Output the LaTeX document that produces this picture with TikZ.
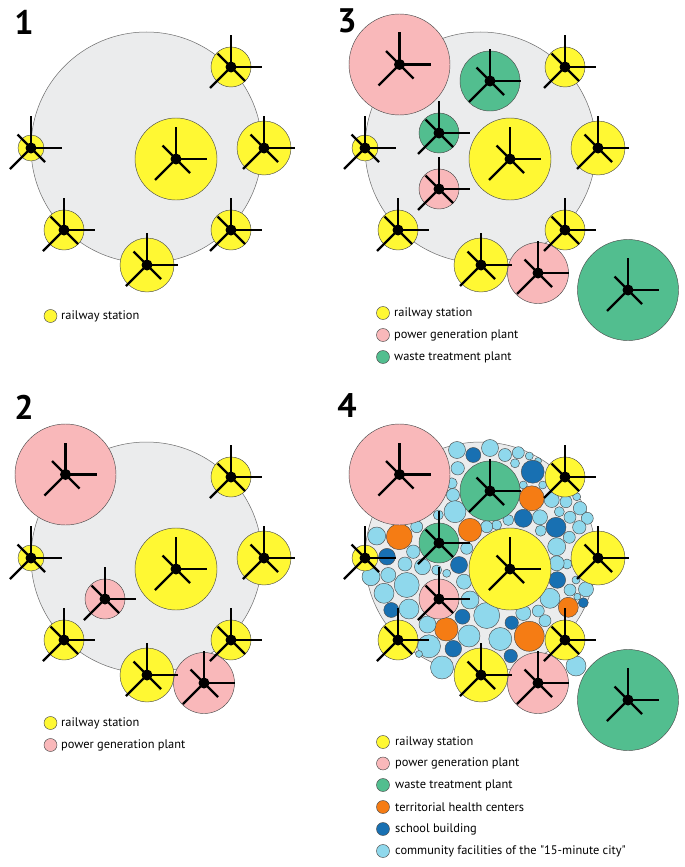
\documentclass[tikz,border=0pt]{standalone}
\usepackage{fontspec}
\setmainfont{PT Sans}[Ligatures=TeXOff]
\definecolor{cyel}{RGB}{255,248,51}
\definecolor{cpink}{RGB}{249,184,186}
\definecolor{cgreen}{RGB}{82,190,143}
\definecolor{cor}{RGB}{245,124,20}
\definecolor{cdb}{RGB}{24,112,178}
\definecolor{clb}{RGB}{143,216,236}
\definecolor{cgray}{RGB}{235,236,237}
\definecolor{grayline}{RGB}{110,110,110}
\tikzset{
  spoke/.style={line width=2.2pt, black, line cap=butt},
  disc/.style={draw=black!70, line width=0.45pt},
  base/.style={fill=cgray, draw=grayline, line width=0.5pt},
  legdot/.style={draw=black!70, line width=0.45pt},
  legtext/.style={anchor=west, inner sep=0pt, font=\fontsize{12.4}{14}\selectfont},
  paneltitle/.style={inner sep=0pt, font=\bfseries\fontsize{34}{34}\selectfont},
  hub/.pic={
    \draw[spoke] (0,0) -- (0,-32);
    \draw[spoke] (0,0) -- (31,0);
    \draw[spoke] (0,0) -- (-21,21);
    \draw[spoke] (-13.5,-13.5) -- (14,14);
    \fill[black] (0,0) circle (5.5);
  }
}
\newcommand\drawBase{\filldraw[base] (146.5,147.5) circle (115.5);}
\newcommand\drawRail{%
  \foreach \x/\y/\r in {231/67/20, 31/148/13, 176/159/41, 264/148/27, 64/230/20, 147/265/27, 231/230/20}
    {\filldraw[disc, fill=cyel] (\x,\y) circle (\r);}}
\newcommand\drawRailHubs{%
  \foreach \x/\y in {231/67, 31/148, 176/159, 264/148, 64/230, 147/265, 231/230}
    {\pic at (\x,\y) {hub};}}
\newcommand\drawPinkBig{\filldraw[disc, fill=cpink] (65.5,64.5) circle (50.5);}
\newcommand\drawPinkRest{%
  \filldraw[disc, fill=cpink] (105,189) circle (20);
  \filldraw[disc, fill=cpink] (204,273) circle (30.5);}
\newcommand\drawPinkHubs{%
  \foreach \x/\y in {65.5/64.5, 105/189, 204/273} {\pic at (\x,\y) {hub};}}
\newcommand\drawGreen{%
  \filldraw[disc, fill=cgreen] (156,81) circle (30);
  \filldraw[disc, fill=cgreen] (105,133) circle (20);
  \filldraw[disc, fill=cgreen] (294,290) circle (50.5);}
\newcommand\drawGreenHubs{%
  \foreach \x/\y in {156/81, 105/133, 294/290} {\pic at (\x,\y) {hub};}}
\begin{document}
\begin{tikzpicture}[x=1pt,y=-1pt]
\fill[white] (0,0) rectangle (685,867);
\useasboundingbox (0,0) rectangle (685,867);

% ---------- panel 1
\begin{scope}
  \drawBase
  \drawRail
  \drawRailHubs
\end{scope}
\node[paneltitle] (t1) at (24,22) {1};
\filldraw[legdot, fill=cyel] (50.5,316) circle (6.5);
\node[legtext] (l1a) at (61,316) {railway station};

% ---------- panel 2
\begin{scope}[shift={(0,410)}]
  \drawBase
  \drawPinkBig
  \drawRail
  \drawPinkRest
  \drawRailHubs
  \drawPinkHubs
\end{scope}
\node[paneltitle] (t2) at (24,407) {2};
\filldraw[legdot, fill=cyel] (50.5,723) circle (6.5);
\filldraw[legdot, fill=cpink] (50.5,745) circle (6.5);
\node[legtext] (l2a) at (61,723) {railway station};
\node[legtext] (l2b) at (61,745) {power generation plant};

% ---------- panel 3
\begin{scope}[shift={(334,0)}]
  \drawBase
  \drawPinkBig
  \drawRail
  \drawPinkRest
  \drawGreen
  \drawRailHubs
  \drawPinkHubs
  \drawGreenHubs
\end{scope}
\node[paneltitle] (t3) at (347,21) {3};
\filldraw[legdot, fill=cyel] (383,313) circle (6.5);
\filldraw[legdot, fill=cpink] (383,335) circle (6.5);
\filldraw[legdot, fill=cgreen] (383,357) circle (6.5);
\node[legtext] (l3a) at (394,313) {railway station};
\node[legtext] (l3b) at (394,335) {power generation plant};
\node[legtext] (l3c) at (394,357) {waste treatment plant};

% ---------- panel 4
\begin{scope}[shift={(334,410)}]
  \drawBase
\end{scope}
\foreach \x/\y/\r/\c in {
457/450/8.5/clb, 473.3/455/7.5/cdb, 490/448/8.5/clb, 505/455/6.5/clb,
518.3/452.7/6/clb, 529.3/456/4/clb, 515/463.3/4.5/clb, 538/461/3.5/clb,
457.7/468.3/6.7/clb, 532.7/471.7/11.5/cdb, 451.7/483.3/5.5/clb, 453/495/6.5/clb,
455/511.7/11/clb, 438.3/515/5/clb, 523.3/485/4/clb, 542.7/485/4/clb,
531.7/498.3/12.5/cor, 551.7/500/7.5/clb, 566/501.7/6/clb, 576.7/496.7/4/clb,
580/508.3/6.7/clb, 559.3/511.7/5/clb, 570/517.3/6/clb, 587.3/518.3/6/clb,
523.3/518.3/9/cdb, 540/517.3/7.5/clb, 508.3/520/5.5/clb, 496.7/525/5/clb,
486.7/526.7/6/clb, 556/527.3/10/cdb, 579.3/527.3/6.7/clb, 540.7/530.7/5.5/clb,
569.3/537.3/6/clb, 556.7/546.7/9/clb, 567/564/5/clb, 556.7/563.3/7.5/clb,
470/530/11.7/cor, 376.7/536/9/clb, 399.3/536.7/13/cor, 416.7/526.7/6/clb,
413.3/551.7/6.7/clb, 387/556.7/8.3/cdb, 405/564/7/clb, 371/576.7/9/clb,
388.3/575/7.5/clb, 422.5/566.7/8/clb, 406.7/585/12.5/clb, 384/593.3/10/clb,
391.3/610/7.5/cdb, 409/609/10/clb, 436.7/570/5/clb, 446.7/573.3/4/clb,
459/565/8.5/cdb, 464/581.7/7.5/clb, 470/600/9/clb, 462.5/616.7/7.5/cdb,
466.7/548.3/6/clb, 446.3/629.3/11.7/cor, 427.5/624.5/8.5/clb, 469/636/11/clb,
453.3/648.7/8.3/cdb, 429/646.3/11.5/clb, 442/667.5/11.5/clb, 486.7/615.5/13/clb,
500.3/639/11.5/clb, 511.7/622.7/6.7/cdb, 510.7/656/6.7/cdb, 529.3/636.3/15/cor,
523.3/613/7.5/clb, 538.3/611/6/clb, 545/620.7/6/clb, 550/598.3/10/clb,
568.3/607.3/10/cor, 583.3/602.7/5/cdb, 570/590/6/clb, 586/589.3/7.5/clb,
576/580/4/clb, 557.3/580/8.3/cdb, 577.3/596.7/3.5/clb, 576/666/10/clb,
428/538/5/clb, 419/654/3.5/clb}
  {\filldraw[disc, fill=\c] (\x,\y) circle (\r);}
\begin{scope}[shift={(334,410)}]
  \drawPinkBig
  \drawRail
  \drawPinkRest
  \drawGreen
  \drawRailHubs
  \drawPinkHubs
  \drawGreenHubs
\end{scope}
\node[paneltitle] (t4) at (347,406) {4};
\foreach \y/\c in {742/cyel, 763.5/cpink, 785/cgreen, 807/cor, 829/cdb, 851/clb}
  {\filldraw[legdot, fill=\c] (383,\y) circle (6.5);}
\node[legtext] (l4a) at (395,742) {railway station};
\node[legtext] (l4b) at (395,763.5) {power generation plant};
\node[legtext] (l4c) at (395,785) {waste treatment plant};
\node[legtext] (l4d) at (395,807) {territorial health centers};
\node[legtext] (l4e) at (395,829) {school building};
\node[legtext] (l4f) at (395,851) {community facilities of the "15-minute city"};
\end{tikzpicture}
\end{document}
